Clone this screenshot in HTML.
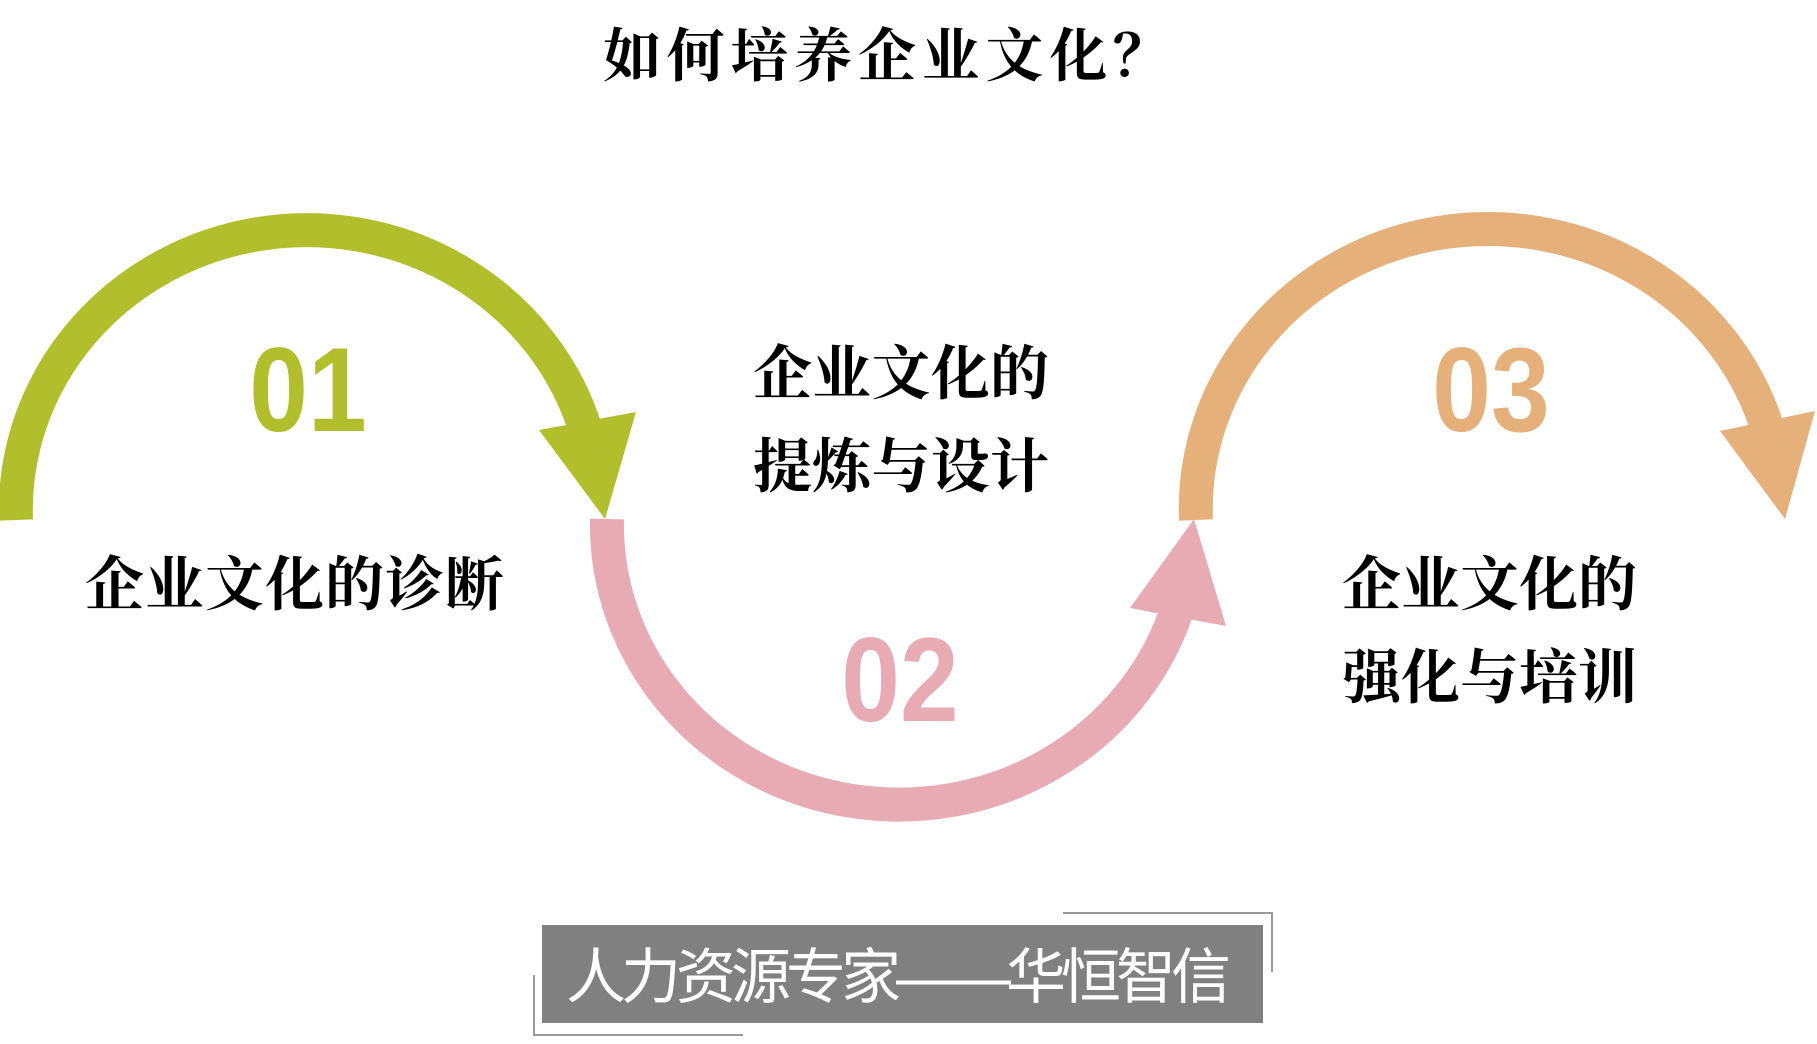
<!DOCTYPE html>
<html><head><meta charset="utf-8"><style>
html,body{margin:0;padding:0;background:#fff;}
body{width:1817px;height:1044px;position:relative;overflow:hidden;}
svg{position:absolute;left:0;top:0;}
.cn{font-family:"Liberation Serif","Noto Serif CJK SC",serif;font-weight:bold;fill:#000;}
.num{font-family:"Liberation Sans",sans-serif;font-weight:bold;}
.ban{font-family:"Liberation Sans","Noto Sans CJK SC",sans-serif;fill:#fff;}
</style></head><body>
<svg width="1817" height="1044" viewBox="0 0 1817 1044">
<text class="cn" x="603" y="76" font-size="58" textLength="568">如何培养企业文化？</text>
<!-- green -->
<path d="M16 520 A291 280 0 0 1 585 428" fill="none" stroke="#b0bf2b" stroke-width="34"/>
<polygon points="539,430 636,412 605,519" fill="#b0bf2b"/>
<!-- pink -->
<path d="M607 519 A292 280 0 0 0 1176 613" fill="none" stroke="#e8aab3" stroke-width="34"/>
<polygon points="1130,608 1226,626 1194,519" fill="#e8aab3"/>
<!-- orange -->
<path d="M1196 520 A292 280 0 0 1 1766 424" fill="none" stroke="#e6b07a" stroke-width="34"/>
<polygon points="1720,431 1815,411 1785,519" fill="#e6b07a"/>
<g transform="translate(308,431) scale(0.88,1)"><text class="num" x="0" y="0" font-size="120" fill="#b0bf2b" text-anchor="middle">01</text></g>
<g transform="translate(900,721) scale(0.88,1)"><text class="num" x="0" y="0" font-size="120" fill="#e8aab3" text-anchor="middle">02</text></g>
<g transform="translate(1491,431) scale(0.88,1)"><text class="num" x="0" y="0" font-size="120" fill="#e6b07a" text-anchor="middle">03</text></g>
<text class="cn" x="85" y="605" font-size="59" textLength="419">企业文化的诊断</text>
<text class="cn" x="753" y="394" font-size="59" textLength="296">企业文化的</text>
<text class="cn" x="753" y="487" font-size="59" textLength="296">提炼与设计</text>
<text class="cn" x="1342" y="605" font-size="59" textLength="295">企业文化的</text>
<text class="cn" x="1342" y="698" font-size="59" textLength="295">强化与培训</text>
<!-- banner -->
<rect x="542" y="925" width="721" height="98" fill="#808080"/>
<text class="ban" x="566" y="998" font-size="60" textLength="665">人力资源专家——华恒智信</text>
<polyline points="1063,913 1272,913 1272,972" fill="none" stroke="#999" stroke-width="2"/>
<polyline points="534,975 534,1035 743,1035" fill="none" stroke="#999" stroke-width="2"/>
</svg>
</body></html>
